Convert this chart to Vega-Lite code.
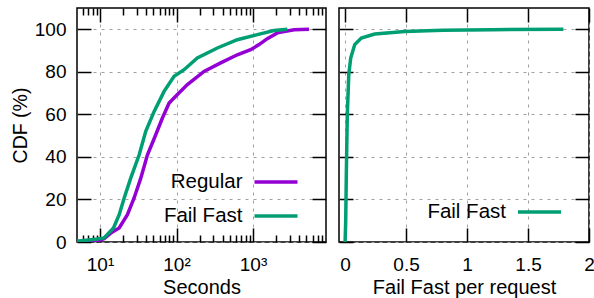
{
  "$schema": "https://vega.github.io/schema/vega-lite/v6.json",
  "autosize": {"type": "pad"},
  "padding": {"left": 9, "top": 6, "right": 0, "bottom": 0},
  "background": "white",
  "config": {
    "font": "Liberation Sans",
    "view": {"stroke": "black", "strokeWidth": 1.5},
    "axis": {
      "domain": false,
      "tickColor": "black",
      "tickWidth": 1.5,
      "labelColor": "black",
      "titleColor": "black",
      "labelFont": "Liberation Sans",
      "titleFont": "Liberation Sans",
      "labelFontSize": 19,
      "titleFontSize": 20,
      "titleFontWeight": "normal",
      "gridColor": "#a0a0a0",
      "gridDash": [3, 5],
      "gridWidth": 1,
      "labelOverlap": false,
      "labelFlush": false
    },
    "legend": {
      "orient": "none",
      "title": null,
      "symbolType": "stroke",
      "symbolSize": 1849,
      "symbolStrokeWidth": 3.5,
      "symbolOpacity": 1,
      "labelFontSize": 20.5,
      "labelFont": "Liberation Sans",
      "labelColor": "black",
      "labelAlign": "right",
      "labelOffset": -57,
      "labelLimit": 0,
      "rowPadding": -5,
      "padding": 0
    }
  },
  "datasets": {
    "seconds": [
      {"series": "Regular", "seconds": 5, "cdf": 0.2},
      {"series": "Regular", "seconds": 8, "cdf": 0.5},
      {"series": "Regular", "seconds": 10, "cdf": 0.9},
      {"series": "Regular", "seconds": 11.3, "cdf": 1.6},
      {"series": "Regular", "seconds": 13.8, "cdf": 4.2},
      {"series": "Regular", "seconds": 17.8, "cdf": 6.6},
      {"series": "Regular", "seconds": 22.8, "cdf": 12.8},
      {"series": "Regular", "seconds": 27.9, "cdf": 20.7},
      {"series": "Regular", "seconds": 34.1, "cdf": 30},
      {"series": "Regular", "seconds": 41.7, "cdf": 41},
      {"series": "Regular", "seconds": 53.5, "cdf": 50.4},
      {"series": "Regular", "seconds": 65.4, "cdf": 58.3},
      {"series": "Regular", "seconds": 80, "cdf": 65.3},
      {"series": "Regular", "seconds": 102.7, "cdf": 69.3},
      {"series": "Regular", "seconds": 138.8, "cdf": 74},
      {"series": "Regular", "seconds": 229, "cdf": 80.2},
      {"series": "Regular", "seconds": 378, "cdf": 84.2},
      {"series": "Regular", "seconds": 624, "cdf": 88},
      {"series": "Regular", "seconds": 931, "cdf": 90.4},
      {"series": "Regular", "seconds": 1199, "cdf": 92.8},
      {"series": "Regular", "seconds": 1538, "cdf": 95.6},
      {"series": "Regular", "seconds": 2080, "cdf": 98.3},
      {"series": "Regular", "seconds": 3435, "cdf": 99.8},
      {"series": "Regular", "seconds": 5395, "cdf": 100},
      {"series": "Fail Fast", "seconds": 5, "cdf": 0.3},
      {"series": "Fail Fast", "seconds": 9.26, "cdf": 1.4},
      {"series": "Fail Fast", "seconds": 11.3, "cdf": 1.9},
      {"series": "Fail Fast", "seconds": 15, "cdf": 6.6},
      {"series": "Fail Fast", "seconds": 17.8, "cdf": 12.8},
      {"series": "Fail Fast", "seconds": 20.7, "cdf": 20.7},
      {"series": "Fail Fast", "seconds": 25.2, "cdf": 30},
      {"series": "Fail Fast", "seconds": 32.5, "cdf": 41},
      {"series": "Fail Fast", "seconds": 39.6, "cdf": 52},
      {"series": "Fail Fast", "seconds": 51, "cdf": 61.4},
      {"series": "Fail Fast", "seconds": 68.8, "cdf": 70.8},
      {"series": "Fail Fast", "seconds": 93, "cdf": 77.9},
      {"series": "Fail Fast", "seconds": 125.6, "cdf": 81},
      {"series": "Fail Fast", "seconds": 187, "cdf": 86.5},
      {"series": "Fail Fast", "seconds": 342, "cdf": 91.2},
      {"series": "Fail Fast", "seconds": 624, "cdf": 95.1},
      {"series": "Fail Fast", "seconds": 1140, "cdf": 97.5},
      {"series": "Fail Fast", "seconds": 1880, "cdf": 99.4},
      {"series": "Fail Fast", "seconds": 2810, "cdf": 100}
    ],
    "perRequest": [
      {"series": "Fail Fast", "ratio": 0, "cdf": 0},
      {"series": "Fail Fast", "ratio": 0.005, "cdf": 10},
      {"series": "Fail Fast", "ratio": 0.01, "cdf": 31.6},
      {"series": "Fail Fast", "ratio": 0.018, "cdf": 59.8},
      {"series": "Fail Fast", "ratio": 0.03, "cdf": 78.7},
      {"series": "Fail Fast", "ratio": 0.046, "cdf": 86.5},
      {"series": "Fail Fast", "ratio": 0.079, "cdf": 92.8},
      {"series": "Fail Fast", "ratio": 0.133, "cdf": 95.9},
      {"series": "Fail Fast", "ratio": 0.243, "cdf": 97.8},
      {"series": "Fail Fast", "ratio": 0.49, "cdf": 99},
      {"series": "Fail Fast", "ratio": 0.8, "cdf": 99.5},
      {"series": "Fail Fast", "ratio": 1.2, "cdf": 99.8},
      {"series": "Fail Fast", "ratio": 1.79, "cdf": 100}
    ]
  },
  "spacing": 9,
  "resolve": {"scale": {"color": "independent"}},
  "hconcat": [
    {
      "width": 249,
      "height": 234,
      "data": {"name": "seconds"},
      "resolve": {"axis": {"x": "independent", "y": "independent"}},
      "layer": [
        {
          "mark": {"type": "line", "strokeWidth": 3.5, "clip": true},
          "encoding": {
            "x": {"field": "seconds", "type": "quantitative",
              "scale": {"type": "log", "domain": [5, 9000], "nice": false},
              "axis": {"orient": "bottom", "title": "Seconds", "values": [10, 100, 1000],
                "labelExpr": "datum.value == 10 ? '10¹' : datum.value == 100 ? '10²' : '10³'",
                "grid": true, "tickSize": -14, "labelPadding": 27, "titleY": 51, "titleBaseline": "alphabetic"}},
            "y": {"field": "cdf", "type": "quantitative",
              "scale": {"domain": [0, 110], "nice": false},
              "axis": {"orient": "left", "title": "CDF (%)", "titleFontSize": 19.5, "values": [0, 20, 40, 60, 80, 100],
                "grid": true, "tickSize": -14, "labelPadding": 25, "titleX": -57, "titleBaseline": "middle"}},
            "color": {"field": "series", "type": "nominal",
              "scale": {"domain": ["Regular", "Fail Fast"], "range": ["#9400d3", "#009e73"]},
              "legend": {"legendX": 175.5, "legendY": 150.5}}
          }
        },
        {
          "mark": {"type": "line", "opacity": 0},
          "encoding": {
            "x": {"field": "seconds", "type": "quantitative",
              "axis": {"orient": "top", "title": null, "labels": false, "grid": false, "values": [10, 100, 1000], "tickSize": -14}},
            "y": {"field": "cdf", "type": "quantitative",
              "axis": {"orient": "right", "title": null, "labels": false, "grid": false, "values": [0, 20, 40, 60, 80, 100], "tickSize": -14}},
            "detail": {"field": "series"}
          }
        },
        {
          "mark": {"type": "line", "opacity": 0},
          "encoding": {
            "x": {"field": "seconds", "type": "quantitative",
              "axis": {"orient": "bottom", "title": null, "labels": false, "grid": false, "tickSize": -7,
                "values": [6, 7, 8, 9, 20, 30, 40, 50, 60, 70, 80, 90, 200, 300, 400, 500, 600, 700, 800, 900, 2000, 3000, 4000, 5000, 6000, 7000, 8000]}},
            "y": {"field": "cdf", "type": "quantitative", "axis": null},
            "detail": {"field": "series"}
          }
        },
        {
          "mark": {"type": "line", "opacity": 0},
          "encoding": {
            "x": {"field": "seconds", "type": "quantitative",
              "axis": {"orient": "top", "title": null, "labels": false, "grid": false, "tickSize": -7,
                "values": [6, 7, 8, 9, 20, 30, 40, 50, 60, 70, 80, 90, 200, 300, 400, 500, 600, 700, 800, 900, 2000, 3000, 4000, 5000, 6000, 7000, 8000]}},
            "y": {"field": "cdf", "type": "quantitative", "axis": null},
            "detail": {"field": "series"}
          }
        }
      ]
    },
    {
      "width": 250,
      "height": 234,
      "data": {"name": "perRequest"},
      "resolve": {"axis": {"x": "independent", "y": "independent"}},
      "layer": [
        {
          "mark": {"type": "line", "strokeWidth": 3.5, "clip": true},
          "encoding": {
            "x": {"field": "ratio", "type": "quantitative",
              "scale": {"domain": [-0.05, 2], "nice": false, "zero": false},
              "axis": {"orient": "bottom", "title": "Fail Fast per request", "values": [0, 0.5, 1, 1.5, 2], "format": "~g",
                "grid": true, "tickSize": -14, "labelPadding": 27, "titleY": 51, "titleBaseline": "alphabetic"}},
            "y": {"field": "cdf", "type": "quantitative",
              "scale": {"domain": [0, 110], "nice": false},
              "axis": {"orient": "left", "title": null, "labels": false, "values": [0, 20, 40, 60, 80, 100],
                "grid": true, "tickSize": -14}},
            "color": {"field": "series", "type": "nominal",
              "scale": {"domain": ["Fail Fast"], "range": ["#009e73"]},
              "legend": {"legendX": 177, "legendY": 180.5}}
          }
        },
        {
          "mark": {"type": "line", "opacity": 0},
          "encoding": {
            "x": {"field": "ratio", "type": "quantitative",
              "axis": {"orient": "top", "title": null, "labels": false, "grid": false, "values": [0, 0.5, 1, 1.5, 2], "tickSize": -14}},
            "y": {"field": "cdf", "type": "quantitative",
              "axis": {"orient": "right", "title": null, "labels": false, "grid": false, "values": [0, 20, 40, 60, 80, 100], "tickSize": -14}},
            "detail": {"field": "series"}
          }
        }
      ]
    }
  ]
}
